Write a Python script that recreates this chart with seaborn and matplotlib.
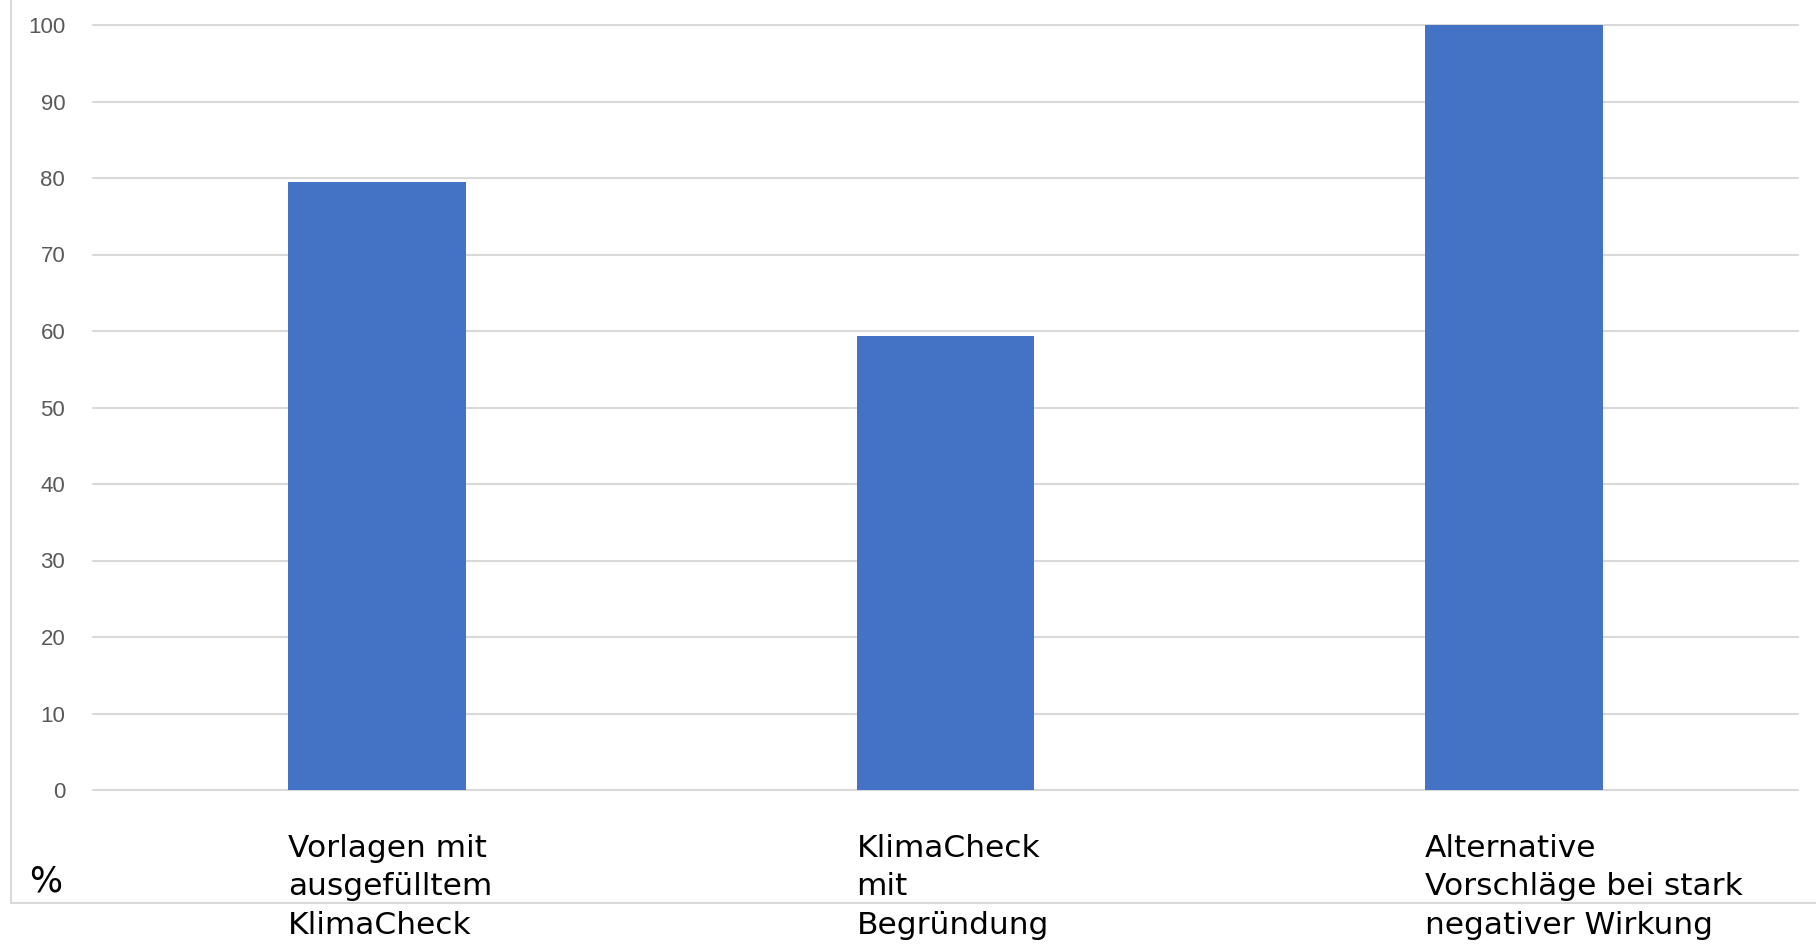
import matplotlib
matplotlib.use("Agg")
import matplotlib.pyplot as plt
import matplotlib.transforms as mtransforms
from matplotlib.lines import Line2D
import seaborn as sns
import pandas as pd

# ---- data ----
categories = [
    "Vorlagen mit\nausgefülltem\nKlimaCheck",
    "KlimaCheck\nmit\nBegründung",
    "Alternative\nVorschläge bei stark\nnegativer Wirkung",
]
values = [79.5, 59.3, 100.0]
y_ticks = [0, 10, 20, 30, 40, 50, 60, 70, 80, 90, 100]
unit_label = "%"

sns.set_theme(style="white")
plt.rcParams["font.family"] = ["DejaVu Sans"]

W, H = 1816, 944
fig = plt.figure(figsize=(W / 100, H / 100), dpi=100)
ax = fig.add_axes([93 / W, 1 - 790 / H, (1798 - 93) / W, (790 - 25) / H])

df = pd.DataFrame({"cat": categories, "val": values})
sns.barplot(data=df, x="cat", y="val", color="#4472C4", saturation=1,
            width=0.313, ax=ax, edgecolor="none", linewidth=0)

ax.set_xlim(-0.5, len(categories) - 0.5)
ax.set_ylim(0, 100)
ax.set_yticks(y_ticks)
ax.set_yticklabels([str(t) for t in y_ticks], family="Liberation Sans",
                   fontsize=16, color="#595959")
ax.tick_params(axis="y", length=0, pad=20)
ax.set_xticks([])
ax.set_xlabel("")
ax.set_ylabel("")
for s in ax.spines.values():
    s.set_visible(False)

ax.set_axisbelow(True)
ax.yaxis.grid(True, color="#d9d9d9", linewidth=1.5)
ax.xaxis.grid(False)
for gl in ax.get_ygridlines():
    gl.set_clip_on(False)

# category labels, left-aligned at bar left edges
trans = mtransforms.blended_transform_factory(ax.transData, fig.transFigure)
bar_w = 0.313
for i, lab in enumerate(categories):
    ax.text(i - bar_w / 2, 1 - 834 / H, lab, transform=trans, ha="left",
            va="top", fontsize=22.5, color="black", linespacing=1.41,
            family="DejaVu Sans")

fig.text(46 / W, 1 - 882 / H, unit_label, ha="center", va="center",
         fontsize=25, color="black", family="DejaVu Sans")

# chart-area border (left and bottom visible)
fig.add_artist(Line2D([11 / W, 11 / W], [1.0, 1 - 903 / H],
                      transform=fig.transFigure, color="#d9d9d9", linewidth=1.5))
fig.add_artist(Line2D([11 / W, 1.0], [1 - 903 / H, 1 - 903 / H],
                      transform=fig.transFigure, color="#d9d9d9", linewidth=1.5))

fig.savefig("out.png", dpi=100, facecolor="white")
